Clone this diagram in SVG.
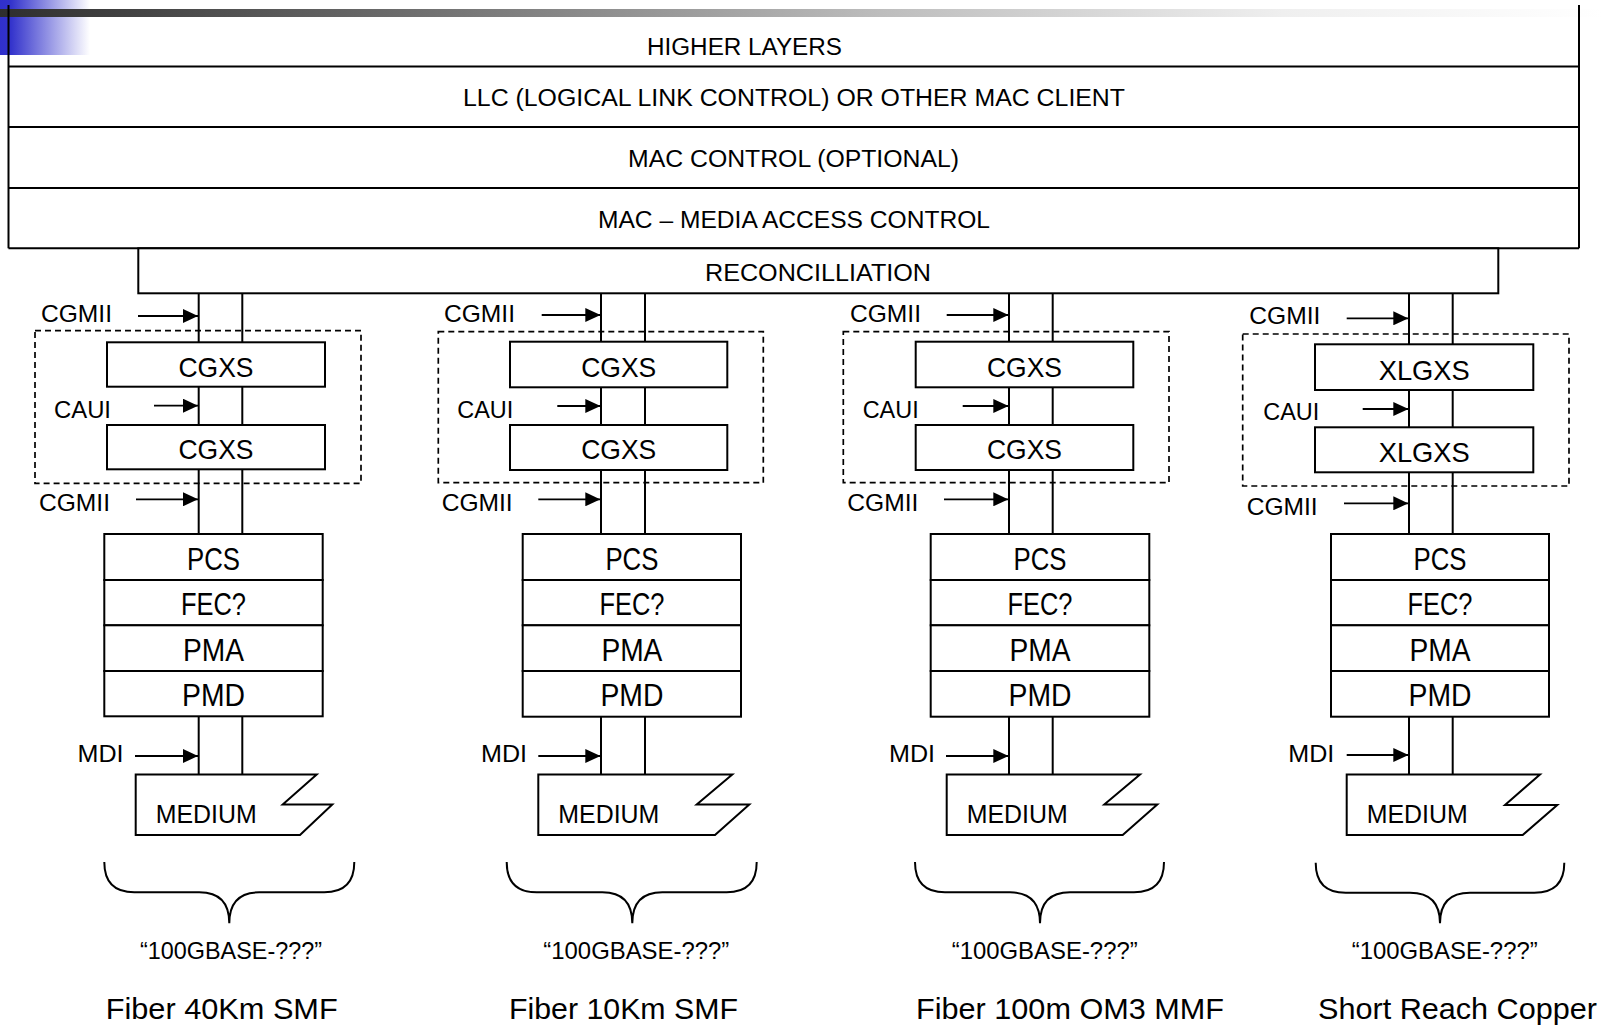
<svg xmlns="http://www.w3.org/2000/svg" width="1603" height="1025" viewBox="0 0 1603 1025">
<defs>
<linearGradient id="barGrad" x1="0" y1="0" x2="1" y2="0">
<stop offset="0" stop-color="#2e2e2e"/>
<stop offset="0.25" stop-color="#6c6c6c"/>
<stop offset="0.55" stop-color="#bdbdbd"/>
<stop offset="0.8" stop-color="#efefef"/>
<stop offset="1" stop-color="#ffffff"/>
</linearGradient>
<linearGradient id="blueGrad" x1="0" y1="0" x2="1" y2="0">
<stop offset="0" stop-color="#3030cc"/>
<stop offset="0.12" stop-color="#3333cc"/>
<stop offset="1" stop-color="#ffffff"/>
</linearGradient>
<marker id="arr" markerUnits="userSpaceOnUse" markerWidth="15" markerHeight="14" refX="15" refY="7" orient="auto">
<path d="M0,0 L15,7 L0,14 z" fill="#000"/>
</marker>
<style>
.box{fill:#fff;stroke:#000;stroke-width:2}
.ln{fill:none;stroke:#000;stroke-width:2}
.dash{fill:none;stroke:#000;stroke-width:1.7;stroke-dasharray:6 4}
.arrow{stroke:#000;stroke-width:1.8;marker-end:url(#arr)}
.t{font-family:"Liberation Sans",Arial,sans-serif;fill:#000}
.hd{font-size:23px}
.lb{font-size:24px}
.bx{font-size:28px;text-anchor:middle}
.st{font-size:31px;text-anchor:middle}
.md{font-size:25px}
.nm{font-size:24px}
.ft{font-size:30px}
</style>
</defs>

<g id="decoration">
<rect x="0" y="0" width="90" height="55" fill="url(#blueGrad)"/>
<rect x="0" y="9" width="1603" height="8" fill="url(#barGrad)"/>
</g>

<g id="upper-stack">
<line class="ln" x1="8.5" y1="5" x2="8.5" y2="248.3"/>
<line class="ln" x1="1579" y1="5" x2="1579" y2="248.3"/>
<line class="ln" x1="8.5" y1="66.5" x2="1579" y2="66.5"/>
<line class="ln" x1="8.5" y1="127" x2="1579" y2="127"/>
<line class="ln" x1="8.5" y1="188" x2="1579" y2="188"/>
<line class="ln" x1="8.5" y1="248.3" x2="1579" y2="248.3"/>
<text class="t hd" x="647" y="55" textLength="195" lengthAdjust="spacingAndGlyphs">HIGHER LAYERS</text>
<text class="t hd" x="463" y="106" textLength="662" lengthAdjust="spacingAndGlyphs">LLC (LOGICAL LINK CONTROL) OR OTHER MAC CLIENT</text>
<text class="t hd" x="628" y="167" textLength="331" lengthAdjust="spacingAndGlyphs">MAC CONTROL (OPTIONAL)</text>
<text class="t hd" x="598" y="228" textLength="392" lengthAdjust="spacingAndGlyphs">MAC – MEDIA ACCESS CONTROL</text>
</g>

<g id="connectors">
<line class="ln" x1="198.7" y1="293" x2="198.7" y2="774.5"/>
<line class="ln" x1="242.3" y1="293" x2="242.3" y2="774.5"/>
<line class="ln" x1="601" y1="293" x2="601" y2="774.5"/>
<line class="ln" x1="645" y1="293" x2="645" y2="774.5"/>
<line class="ln" x1="1009" y1="293" x2="1009" y2="774.5"/>
<line class="ln" x1="1052.7" y1="293" x2="1052.7" y2="774.5"/>
<line class="ln" x1="1409" y1="293" x2="1409" y2="774.5"/>
<line class="ln" x1="1452.7" y1="293" x2="1452.7" y2="774.5"/>
<line class="arrow" x1="138" y1="316" x2="198" y2="316"/>
<line class="arrow" x1="154" y1="405.7" x2="198" y2="405.7"/>
<line class="arrow" x1="136" y1="499.3" x2="198" y2="499.3"/>
<line class="arrow" x1="135" y1="756" x2="198" y2="756"/>
<line class="arrow" x1="541.7" y1="315" x2="600.3" y2="315"/>
<line class="arrow" x1="557.3" y1="406" x2="600.3" y2="406"/>
<line class="arrow" x1="538.3" y1="499.3" x2="600.3" y2="499.3"/>
<line class="arrow" x1="538.3" y1="756" x2="600.3" y2="756"/>
<line class="arrow" x1="946.7" y1="315" x2="1008.3" y2="315"/>
<line class="arrow" x1="962.7" y1="406" x2="1008.3" y2="406"/>
<line class="arrow" x1="944" y1="499.3" x2="1008.3" y2="499.3"/>
<line class="arrow" x1="946" y1="756" x2="1008.3" y2="756"/>
<line class="arrow" x1="1346.7" y1="318.3" x2="1408.3" y2="318.3"/>
<line class="arrow" x1="1362.7" y1="409" x2="1408.3" y2="409"/>
<line class="arrow" x1="1344" y1="503.3" x2="1408.3" y2="503.3"/>
<line class="arrow" x1="1346.7" y1="755" x2="1408.3" y2="755"/>
<text class="t lb" x="41" y="322" textLength="71" lengthAdjust="spacingAndGlyphs">CGMII</text>
<text class="t lb" x="54" y="418" textLength="57" lengthAdjust="spacingAndGlyphs">CAUI</text>
<text class="t lb" x="39" y="510.5" textLength="71" lengthAdjust="spacingAndGlyphs">CGMII</text>
<text class="t lb" x="77.5" y="761.7" textLength="46" lengthAdjust="spacingAndGlyphs">MDI</text>
<text class="t lb" x="444" y="322" textLength="71" lengthAdjust="spacingAndGlyphs">CGMII</text>
<text class="t lb" x="457.3" y="418" textLength="56" lengthAdjust="spacingAndGlyphs">CAUI</text>
<text class="t lb" x="441.7" y="510.5" textLength="71" lengthAdjust="spacingAndGlyphs">CGMII</text>
<text class="t lb" x="481" y="761.7" textLength="46" lengthAdjust="spacingAndGlyphs">MDI</text>
<text class="t lb" x="850" y="322" textLength="71" lengthAdjust="spacingAndGlyphs">CGMII</text>
<text class="t lb" x="862.7" y="418" textLength="56" lengthAdjust="spacingAndGlyphs">CAUI</text>
<text class="t lb" x="847.3" y="510.5" textLength="71" lengthAdjust="spacingAndGlyphs">CGMII</text>
<text class="t lb" x="889" y="761.7" textLength="46" lengthAdjust="spacingAndGlyphs">MDI</text>
<text class="t lb" x="1249.3" y="324.3" textLength="71" lengthAdjust="spacingAndGlyphs">CGMII</text>
<text class="t lb" x="1263.3" y="420" textLength="56" lengthAdjust="spacingAndGlyphs">CAUI</text>
<text class="t lb" x="1246.7" y="515" textLength="71" lengthAdjust="spacingAndGlyphs">CGMII</text>
<text class="t lb" x="1288.3" y="761.7" textLength="46" lengthAdjust="spacingAndGlyphs">MDI</text>
</g>

<g id="reconciliation">
<rect class="box" x="138.3" y="248.3" width="1360" height="45"/>
<text class="t hd" x="705" y="281" textLength="226" lengthAdjust="spacingAndGlyphs">RECONCILLIATION</text>
</g>

<g id="col1-xs">
<rect class="dash" x="35" y="330.7" width="326" height="152.6"/>
<rect class="box" x="107" y="342.3" width="218" height="44.4"/>
<text class="t bx" x="216" y="376.7" textLength="75" lengthAdjust="spacingAndGlyphs">CGXS</text>
<rect class="box" x="107" y="425" width="218" height="44.3"/>
<text class="t bx" x="216" y="459.3" textLength="75" lengthAdjust="spacingAndGlyphs">CGXS</text>
</g>
<g id="col1-phy">
<rect class="box" x="104.3" y="534" width="218.4" height="46"/>
<rect class="box" x="104.3" y="580" width="218.4" height="45.3"/>
<rect class="box" x="104.3" y="625.3" width="218.4" height="45.7"/>
<rect class="box" x="104.3" y="671" width="218.4" height="45.3"/>
<text class="t st" x="213.5" y="570" textLength="53" lengthAdjust="spacingAndGlyphs">PCS</text>
<text class="t st" x="213.5" y="615" textLength="65" lengthAdjust="spacingAndGlyphs">FEC?</text>
<text class="t st" x="213.5" y="661" textLength="61" lengthAdjust="spacingAndGlyphs">PMA</text>
<text class="t st" x="213.5" y="705.5" textLength="63" lengthAdjust="spacingAndGlyphs">PMD</text>
</g>
<g id="col1-medium">
<path class="box" d="M135.7,774.5 H316.7 L282.7,804.5 H332.3 L300,835 H135.7 Z"/>
<text class="t md" x="155.7" y="822.7" textLength="101" lengthAdjust="spacingAndGlyphs">MEDIUM</text>
</g>
<g id="col1-label">
<path class="ln" d="M104.3,862 Q104.3,892.3 134.3,892.3 H199.3 Q229.3,892.3 229.3,923.3 Q229.3,892.3 259.3,892.3 H324.3 Q354.3,892.3 354.3,862"/>
<text class="t nm" x="140" y="959" textLength="182" lengthAdjust="spacingAndGlyphs">“100GBASE-???”</text>
<text class="t ft" x="105.7" y="1019" textLength="232" lengthAdjust="spacingAndGlyphs">Fiber 40Km SMF</text>
</g>

<g id="col2-xs">
<rect class="dash" x="438.3" y="331.7" width="325" height="151"/>
<rect class="box" x="510" y="341.7" width="217.3" height="45.6"/>
<text class="t bx" x="618.7" y="376.7" textLength="75" lengthAdjust="spacingAndGlyphs">CGXS</text>
<rect class="box" x="510" y="425" width="217.3" height="45"/>
<text class="t bx" x="618.7" y="459.3" textLength="75" lengthAdjust="spacingAndGlyphs">CGXS</text>
</g>
<g id="col2-phy">
<rect class="box" x="522.7" y="534" width="218.3" height="46"/>
<rect class="box" x="522.7" y="580" width="218.3" height="45.3"/>
<rect class="box" x="522.7" y="625.3" width="218.3" height="45.7"/>
<rect class="box" x="522.7" y="671" width="218.3" height="45.7"/>
<text class="t st" x="631.9" y="570" textLength="53" lengthAdjust="spacingAndGlyphs">PCS</text>
<text class="t st" x="631.9" y="615" textLength="65" lengthAdjust="spacingAndGlyphs">FEC?</text>
<text class="t st" x="631.9" y="661" textLength="61" lengthAdjust="spacingAndGlyphs">PMA</text>
<text class="t st" x="631.9" y="705.5" textLength="63" lengthAdjust="spacingAndGlyphs">PMD</text>
</g>
<g id="col2-medium">
<path class="box" d="M538.3,774.5 H732.3 L696.7,804.5 H749.3 L715,835 H538.3 Z"/>
<text class="t md" x="558.3" y="822.7" textLength="101" lengthAdjust="spacingAndGlyphs">MEDIUM</text>
</g>
<g id="col2-label">
<path class="ln" d="M506.7,862 Q506.7,892.3 536.7,892.3 H602.3 Q632.3,892.3 632.3,923.3 Q632.3,892.3 662.3,892.3 H726.7 Q756.7,892.3 756.7,862"/>
<text class="t nm" x="543.3" y="959" textLength="186" lengthAdjust="spacingAndGlyphs">“100GBASE-???”</text>
<text class="t ft" x="509" y="1019" textLength="229" lengthAdjust="spacingAndGlyphs">Fiber 10Km SMF</text>
</g>

<g id="col3-xs">
<rect class="dash" x="843.3" y="331.7" width="325.7" height="151"/>
<rect class="box" x="915.7" y="341.7" width="217.6" height="45.6"/>
<text class="t bx" x="1024.5" y="376.7" textLength="75" lengthAdjust="spacingAndGlyphs">CGXS</text>
<rect class="box" x="915.7" y="425" width="217.6" height="45"/>
<text class="t bx" x="1024.5" y="459.3" textLength="75" lengthAdjust="spacingAndGlyphs">CGXS</text>
</g>
<g id="col3-phy">
<rect class="box" x="930.7" y="534" width="218.6" height="46"/>
<rect class="box" x="930.7" y="580" width="218.6" height="45.3"/>
<rect class="box" x="930.7" y="625.3" width="218.6" height="45.7"/>
<rect class="box" x="930.7" y="671" width="218.6" height="45.7"/>
<text class="t st" x="1040" y="570" textLength="53" lengthAdjust="spacingAndGlyphs">PCS</text>
<text class="t st" x="1040" y="615" textLength="65" lengthAdjust="spacingAndGlyphs">FEC?</text>
<text class="t st" x="1040" y="661" textLength="61" lengthAdjust="spacingAndGlyphs">PMA</text>
<text class="t st" x="1040" y="705.5" textLength="63" lengthAdjust="spacingAndGlyphs">PMD</text>
</g>
<g id="col3-medium">
<path class="box" d="M946.7,774.5 H1140 L1104.3,804.5 H1157.3 L1122.7,835 H946.7 Z"/>
<text class="t md" x="966.7" y="822.7" textLength="101" lengthAdjust="spacingAndGlyphs">MEDIUM</text>
</g>
<g id="col3-label">
<path class="ln" d="M915,862 Q915,892.3 945,892.3 H1010 Q1040,892.3 1040,923.3 Q1040,892.3 1070,892.3 H1134 Q1164,892.3 1164,862"/>
<text class="t nm" x="951.7" y="959" textLength="186" lengthAdjust="spacingAndGlyphs">“100GBASE-???”</text>
<text class="t ft" x="916" y="1019" textLength="308" lengthAdjust="spacingAndGlyphs">Fiber 100m OM3 MMF</text>
</g>

<g id="col4-xs">
<rect class="dash" x="1242.7" y="334" width="326.3" height="152"/>
<rect class="box" x="1315" y="344.3" width="218.3" height="45.7"/>
<text class="t bx" x="1424.2" y="379.5" textLength="91" lengthAdjust="spacingAndGlyphs">XLGXS</text>
<rect class="box" x="1315" y="427.3" width="218.3" height="45"/>
<text class="t bx" x="1424.2" y="462" textLength="91" lengthAdjust="spacingAndGlyphs">XLGXS</text>
</g>
<g id="col4-phy">
<rect class="box" x="1331" y="534" width="218" height="46"/>
<rect class="box" x="1331" y="580" width="218" height="45.3"/>
<rect class="box" x="1331" y="625.3" width="218" height="45.7"/>
<rect class="box" x="1331" y="671" width="218" height="45.7"/>
<text class="t st" x="1440" y="570" textLength="53" lengthAdjust="spacingAndGlyphs">PCS</text>
<text class="t st" x="1440" y="615" textLength="65" lengthAdjust="spacingAndGlyphs">FEC?</text>
<text class="t st" x="1440" y="661" textLength="61" lengthAdjust="spacingAndGlyphs">PMA</text>
<text class="t st" x="1440" y="705.5" textLength="63" lengthAdjust="spacingAndGlyphs">PMD</text>
</g>
<g id="col4-medium">
<path class="box" d="M1346.7,774.5 H1540 L1505,805 H1557.3 L1522.7,835 H1346.7 Z"/>
<text class="t md" x="1366.7" y="822.7" textLength="101" lengthAdjust="spacingAndGlyphs">MEDIUM</text>
</g>
<g id="col4-label">
<path class="ln" d="M1315.7,862.7 Q1315.7,892.7 1345.7,892.7 H1410 Q1440,892.7 1440,923.3 Q1440,892.7 1470,892.7 H1534.3 Q1564.3,892.7 1564.3,862.7"/>
<text class="t nm" x="1351.7" y="959" textLength="186" lengthAdjust="spacingAndGlyphs">“100GBASE-???”</text>
<text class="t ft" x="1318" y="1019" textLength="279" lengthAdjust="spacingAndGlyphs">Short Reach Copper</text>
</g>
</svg>
